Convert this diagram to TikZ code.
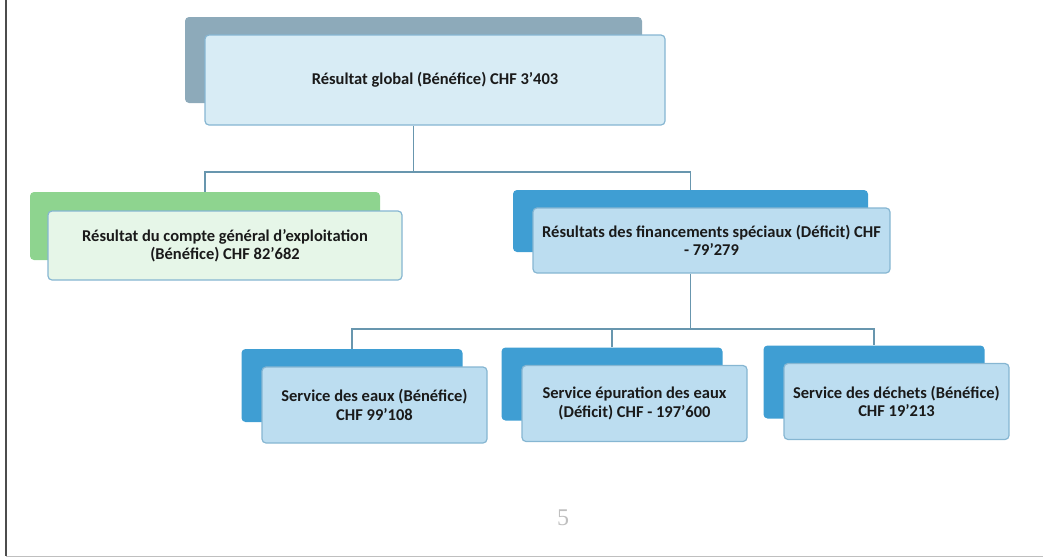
\documentclass[tikz,border=0pt]{standalone}
\usepackage{fontspec}
\setmainfont{Carlito}
\newfontfamily\pagefont{Liberation Serif}
\usetikzlibrary{calc}

\definecolor{topback}{HTML}{8DAABA}
\definecolor{topfront}{HTML}{D8ECF5}
\definecolor{greenback}{HTML}{8ED48F}
\definecolor{greenfront}{HTML}{E6F6E8}
\definecolor{blueback}{HTML}{3F9ED3}
\definecolor{bluefront}{HTML}{BCDDF0}
\definecolor{frontline}{HTML}{86B6D2}
\definecolor{linkcol}{HTML}{6896AE}
\definecolor{textcol}{HTML}{1A1A1A}

\tikzset{
    backbox/.style={rounded corners=4pt, inner sep=0pt},
    frontbox/.style={draw=frontline, line width=1.2pt, rounded corners=4pt, inner sep=0pt,
        align=center, text=textcol, font=\fontsize{16.5}{18.5}\selectfont\bfseries},
    link/.style={draw=linkcol, line width=1.5pt},
}

\begin{document}
\begin{tikzpicture}[x=1pt,y=-1pt]
            \useasboundingbox (0,0) rectangle (1043,558);
            \draw[line width=2pt, draw=black!70] (6,0) -- (6,556);
            \draw[line width=1pt, draw=black!25] (6,556) -- (1043,556);
            % top level
            \node[backbox, fill=topback, minimum width=457pt, minimum height=86pt] (Rb) at (413.5,60) {};
            \node[frontbox, fill=topfront, minimum width=460pt, minimum height=90pt] (R) at (435,80) {Résultat global (Bénéfice) CHF 3'403};
            % second level
            \node[backbox, fill=greenback, minimum width=350pt, minimum height=68pt] (Eb) at (205,226) {};
            \node[frontbox, fill=greenfront, minimum width=354pt, minimum height=69pt] (E) at (225,245.5) {Résultat du compte général d'exploitation\\(Bénéfice) CHF 82'682};
            \node[backbox, fill=blueback, minimum width=355pt, minimum height=62pt] (Sb) at (690.5,221) {};
            \node[frontbox, fill=bluefront, minimum width=357pt, minimum height=65pt] (S) at (711.5,240.5) {Résultats des financements spéciaux (Déficit) CHF\\- 79'279};
            % third level
            \node[backbox, fill=blueback, minimum width=221pt, minimum height=73pt] (W1b) at (352,385.5) {};
            \node[frontbox, fill=bluefront, minimum width=225pt, minimum height=76pt] (W1) at (374.5,405) {Service des eaux (Bénéfice)\\CHF 99'108};
            \node[backbox, fill=blueback, minimum width=221pt, minimum height=73pt] (W2b) at (612,384) {};
            \node[frontbox, fill=bluefront, minimum width=225pt, minimum height=76pt] (W2) at (634.5,403.5) {Service épuration des eaux\\(Déficit) CHF - 197'600};
            \node[backbox, fill=blueback, minimum width=221pt, minimum height=73pt] (W3b) at (874,382) {};
            \node[frontbox, fill=bluefront, minimum width=225pt, minimum height=76pt] (W3) at (896.5,401.5) {Service des déchets (Bénéfice)\\CHF 19'213};
            % connectors
            \coordinate (J1) at (413.5,172);
            \coordinate (J2) at (690.5,329);
            \draw[link] (R.south -| Rb) -- (J1);
            \draw[link] (Eb.north) |- (J1) -| (Sb.north);
            \draw[link] (S.south -| Sb) -- (J2);
            \draw[link] (W1b.north) |- (J2) -| (W3b.north);
            \draw[link] (W2b.north) -- (W2b.north |- J2);
            % page number
            \node[text=black!25, font=\pagefont\fontsize{24}{28}\selectfont] (P) at (563,518) {5};
        \end{tikzpicture}
\end{document}
